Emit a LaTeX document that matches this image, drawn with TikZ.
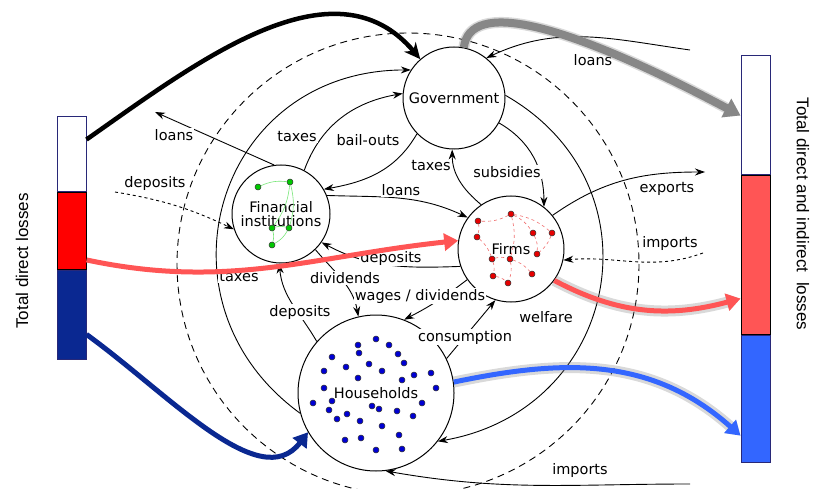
\documentclass[tikz,border=0pt]{standalone}
\usepackage{fontspec}
\setmainfont{DejaVu Sans}
\newfontfamily\barfont{Liberation Sans}
\usepackage{tikz}
\usetikzlibrary{calc,shapes.geometric,arrows,arrows.meta,positioning}
\definecolor{lossred}{RGB}{255,0,0}
\definecolor{lossblue}{RGB}{10,40,145}
\definecolor{totred}{RGB}{255,85,85}
\definecolor{totblue}{RGB}{51,102,255}
\definecolor{barframe}{RGB}{40,40,120}
\definecolor{netgreen}{RGB}{0,200,0}
\definecolor{edgegreen}{RGB}{120,230,120}
\definecolor{netred}{RGB}{230,0,0}
\definecolor{edgered}{RGB}{240,110,110}
\definecolor{dotblue}{RGB}{0,0,210}
\definecolor{flowgray}{RGB}{135,135,135}

\begin{document}
\begin{tikzpicture}[x=1pt, y=-1pt,
  sector/.style={circle, draw, line width=1pt, inner sep=0pt, align=center, font=\fontsize{14.5}{14.5}\selectfont},
  bar/.style={rectangle, draw=barframe, line width=1pt, minimum width=29pt, inner sep=0pt},
  flow/.style={line width=0.9pt, -{Stealth[length=10pt,width=7pt]}},
  lbl/.style={font=\fontsize{14.5}{15}\selectfont, fill=white, inner sep=1pt},
  agent/.style={circle, draw=black!80, line width=0.5pt, inner sep=0pt, minimum size=6pt},
  loss/.style={line width=5pt, -{Triangle[length=14pt,width=17pt]}},
  glow/.style={preaction={draw=black!50, line width=11pt, opacity=0.3}},
  sidelbl/.style={font=\barfont\fontsize{17}{17}\selectfont}
]
  \useasboundingbox (0,0) rectangle (813,489);

  \node[bar, fill=white, minimum height=74pt] (dw) at (71.5,154) {};
  \node[bar, fill=lossred, draw=black, minimum height=77pt, below=0pt of dw] (dr) {};
  \node[bar, fill=lossblue, minimum height=89pt, below=0pt of dr] (db) {};
  \node[sidelbl, rotate=90] (dlbl) at (22,261) {Total direct losses};

  \node[bar, fill=white, minimum height=119pt] (tw) at (755.5,115.5) {};
  \node[bar, fill=totred, draw=black, minimum height=158pt, below=0pt of tw] (tr) {};
  \node[bar, fill=totblue, minimum height=127pt, below=0pt of tr] (tb) {};
  \node[sidelbl, rotate=-90] (tlbl) at (803,214) {Total direct and indirect\ \ losses};

  \draw[dashed, line width=0.9pt, dash pattern=on 7pt off 5pt] (408,264) circle[radius=231];

  \node[sector, minimum size=102pt] (gov) at (454,98) {Government};
  \node[sector, minimum size=98pt] (fin) at (281,214) {Financial\\institutions};
  \node[sector, minimum size=106pt] (firms) at (511,249) {Firms};
  \node[sector, minimum size=156pt] (hh) at (376,393) {Households};

  \foreach \n/\x/\y in {1/258/187, 2/290/182, 3/272/228, 4/289/228, 5/272/245}
    \node[agent, fill=netgreen] (g\n) at (\x,\y) {};
  \foreach \a/\b in {1/2, 2/3, 2/4, 3/4, 4/5, 3/5}
    \draw[edgegreen, line width=0.6pt] (g\a) to[bend left=15] (g\b);

  \foreach \n/\x/\y in {1/511/214, 2/478/221, 3/477/237, 4/533/233, 5/552/233, 6/537/254,
                        7/492/259, 8/510/259, 9/493/276, 10/508/283, 11/532/274}
    \node[agent, fill=netred] (f\n) at (\x,\y) {};
  \foreach \a/\b in {1/2, 1/4, 1/8, 1/5, 2/3, 3/7, 4/6, 5/6, 7/8, 7/9, 8/10, 8/11, 9/10}
    \draw[edgered, dashed, line width=0.6pt] (f\a) to[bend left=15] (f\b);

  \foreach \x/\y [count=\i] in {376/339, 358/345, 389/345, 359/353, 398/354, 332/357, 404/363,
      346/367, 369/364, 382/371, 324/371, 358/378, 414/375, 431/373, 402/380, 324/388,
      436/388, 313/403, 332/401, 372/406, 379/409, 397/411, 422/403, 329/410, 347/414,
      413/416, 337/419, 360/421, 382/426, 399/435, 345/440, 361/438, 376/450, 402/449}
    \node[agent, fill=dotblue] (h\i) at (\x,\y) {};

  \coordinate (loansin) at (690,50);
  \coordinate (importsin) at (690,484);
  \coordinate (exportsout) at (705,172);
  \coordinate (importsfirm) at (703,253);
  \coordinate (loansout) at (155,112);
  \coordinate (depositsin) at (115,192);

  \draw[flow] (hh.195) .. controls (147,302) and (216,70) .. (gov.147);
  \draw[flow] (fin.62) to[out=70, in=190] (gov.175);
  \draw[flow] (gov.224) to[out=240, in=10] (fin.30);
  \draw[flow] (firms.124) to[out=140, in=-90] (gov.268);
  \draw[flow] (gov.331) to[out=-30, in=90] (firms.52);
  \draw[flow] (gov.3) .. controls (664,186) and (619,410) .. (hh.322);
  \draw[flow] (loansin) to[out=172, in=25] (gov.51);
  \draw[flow] (importsin) to[out=180, in=-10] (hh.277);
  \draw[flow] (firms.39) to[out=35, in=180] (exportsout);
  \draw[flow, dashed] (importsfirm) to[out=200, in=5] (firms.348);
  \draw[flow] (fin.98) -- (loansout);
  \draw[flow, dashed] (depositsin) to[bend left=8] (fin.198);
  \draw[flow] (fin.22) to[out=-2, in=155] (firms.144);
  \draw[flow] (firms.199) to[out=182, in=-28] (fin.325);
  \draw[flow] (fin.314) to[out=-50, in=100] (hh.103);
  \draw[flow] (firms.215) to[bend left=5] (hh.69);
  \draw[flow] (hh.139) to[out=120, in=-85] (fin.268);
  \draw[flow] (hh.26) -- (firms.253);

  \node[lbl] (tloansa) at (174,135) {loans};
  \node[lbl] (tdepa) at (155,183) {deposits};
  \node[lbl] (ttaxa) at (297,137) {taxes};
  \node[lbl] (tbail) at (368,140) {bail-outs};
  \node[lbl] (ttaxb) at (431,166) {taxes};
  \node[lbl] (tsub) at (507,172) {subsidies};
  \node[lbl] (tloansb) at (401,190) {loans};
  \node[lbl] (tloansc) at (593,60) {loans};
  \node[lbl] (texp) at (667,189) {exports};
  \node[lbl] (timpa) at (670,243) {imports};
  \node[lbl] (tdepb) at (391,258) {deposits};
  \node[lbl] (tdiv) at (345,278) {dividends};
  \node[lbl] (twages) at (420,296) {wages / dividends};
  \node[lbl] (ttaxc) at (239,277) {taxes};
  \node[lbl] (tdepc) at (300,312) {deposits};
  \node[lbl] (tcons) at (465,337) {consumption};
  \node[lbl] (twelf) at (546,317) {welfare};
  \node[lbl] (timpb) at (580,470) {imports};

  \draw[line width=4.5pt, -{Stealth[length=16pt,width=15pt]}] (dw.44) to[out=35, in=130] (gov.131);
  \draw[flowgray, line width=8pt, glow, -{Triangle[length=16pt,width=20pt]}] (gov.79) .. controls (470,0) and (560,20) .. (tw.west);
  \draw[loss, totred] (dr.-63) to[out=-12, in=186] (firms.171);
  \draw[loss, glow, totred] (firms.324) to[out=-28, in=195] (tr.-109);
  \draw[loss, lossblue] (db.-53) .. controls (170,395) and (260,495) .. (hh.210);
  \draw[loss, glow, totblue] (hh.8) .. controls (560,360) and (650,355) .. (tb.-112);
\end{tikzpicture}
\end{document}
